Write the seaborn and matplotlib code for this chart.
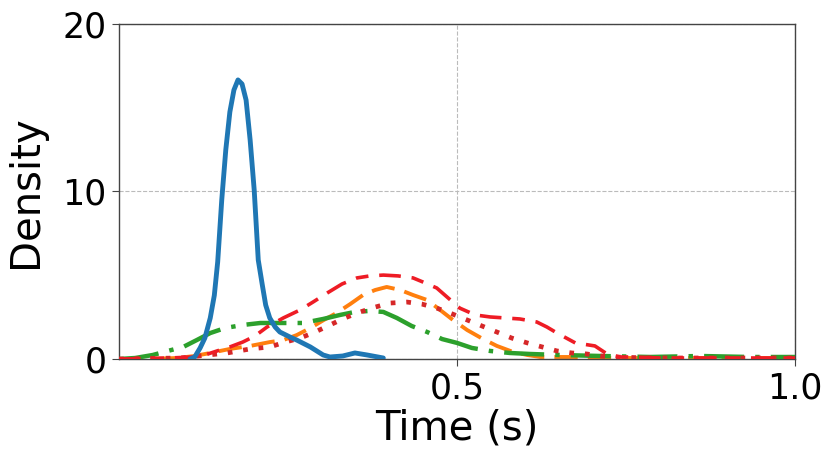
import numpy as np
import pandas as pd
import matplotlib
matplotlib.use("Agg")
import matplotlib.pyplot as plt
import seaborn as sns

# ---- data (x in seconds, y density) ----
blue_x = [0.105, 0.112, 0.120, 0.127, 0.135, 0.141, 0.146, 0.152, 0.158, 0.164, 0.170, 0.176,
          0.182, 0.188, 0.194, 0.200, 0.206, 0.212, 0.217, 0.223, 0.231, 0.238, 0.253, 0.263,
          0.283, 0.302, 0.312, 0.331, 0.349, 0.367, 0.391]
blue_y = [0.0, 0.12, 0.66, 1.25, 2.45, 3.8, 5.8, 9.5, 12.5, 14.75, 16.06, 16.66,
          16.42, 15.46, 13.07, 10.09, 5.91, 4.42, 3.22, 2.45, 1.91, 1.61, 1.31, 1.13,
          0.72, 0.24, 0.12, 0.18, 0.36, 0.24, 0.06]

green_x = [0.0, 0.024, 0.050, 0.072, 0.095, 0.115, 0.135, 0.157, 0.183, 0.209, 0.234, 0.272,
           0.302, 0.327, 0.349, 0.371, 0.391, 0.411, 0.433, 0.456, 0.478, 0.500, 0.522, 0.549,
           0.578, 0.608, 0.652, 0.712, 0.786, 0.860, 0.933, 1.0]
green_y = [0.0, 0.06, 0.24, 0.48, 0.72, 1.13, 1.55, 1.85, 2.03, 2.15, 2.15, 2.15,
           2.39, 2.63, 2.81, 2.87, 2.81, 2.45, 1.97, 1.61, 1.19, 0.96, 0.66, 0.48,
           0.36, 0.30, 0.24, 0.18, 0.12, 0.18, 0.12, 0.12]

orange_x = [0.0, 0.046, 0.086, 0.112, 0.135, 0.164, 0.194, 0.223, 0.243, 0.263, 0.283, 0.303,
            0.322, 0.342, 0.361, 0.379, 0.396, 0.416, 0.435, 0.456, 0.475, 0.494, 0.515, 0.536,
            0.559, 0.583, 0.604, 0.623, 0.672, 0.741, 0.859, 1.0]
orange_y = [0.0, 0.0, 0.06, 0.18, 0.36, 0.60, 0.78, 1.01, 1.13, 1.43, 1.85, 2.33,
            2.75, 3.28, 3.82, 4.12, 4.30, 4.12, 3.82, 3.52, 2.93, 2.33, 1.73, 1.25,
            0.78, 0.42, 0.24, 0.12, 0.12, 0.06, 0.06, 0.06]

reddot_x = [0.0, 0.090, 0.160, 0.194, 0.223, 0.246, 0.268, 0.290, 0.312, 0.334, 0.357, 0.379,
            0.401, 0.426, 0.448, 0.470, 0.493, 0.515, 0.537, 0.559, 0.581, 0.604, 0.626, 0.648,
            0.670, 0.692, 0.712, 0.731, 0.786, 1.0]
reddot_y = [0.0, 0.06, 0.36, 0.60, 0.72, 1.01, 1.25, 1.61, 2.03, 2.45, 2.81, 3.10,
            3.34, 3.40, 3.28, 3.04, 2.69, 2.33, 1.97, 1.61, 1.25, 0.96, 0.72, 0.48,
            0.36, 0.30, 0.18, 0.12, 0.06, 0.06]

reddash_x = [0.0, 0.075, 0.109, 0.127, 0.145, 0.164, 0.183, 0.201, 0.219, 0.243, 0.268, 0.287,
             0.308, 0.330, 0.352, 0.371, 0.391, 0.413, 0.435, 0.453, 0.470, 0.487, 0.504, 0.527,
             0.549, 0.571, 0.593, 0.618, 0.633, 0.648, 0.675, 0.704, 0.722, 0.741, 0.763, 0.800, 1.0]
reddash_y = [0.0, 0.06, 0.12, 0.24, 0.48, 0.72, 1.01, 1.37, 1.91, 2.45, 2.93, 3.40,
             3.94, 4.48, 4.84, 4.96, 5.01, 4.96, 4.84, 4.54, 4.24, 3.64, 3.04, 2.63,
             2.51, 2.45, 2.39, 2.21, 1.91, 1.55, 0.96, 0.78, 0.30, 0.12, 0.12, 0.06, 0.06]

x_ticks = [0.5, 1.0]
x_tick_labels = ["0.5", "1.0"]
y_ticks = [0, 10, 20]

sns.set_style("white")
plt.rcParams['font.family'] = ['DejaVu Sans']
plt.rcParams['text.color'] = 'black'
plt.rcParams['axes.labelcolor'] = 'black'
plt.rcParams['xtick.color'] = 'black'
plt.rcParams['ytick.color'] = 'black'

fig = plt.figure(figsize=(8.23, 4.59), dpi=100)
ax = fig.add_axes([119/823, 1-359/459, (795-119)/823, (359-24)/459])

series = [
    (orange_x, orange_y, "#ff7f0e", (0, (6, 2.6)), 2.8, 2),
    (green_x, green_y, "#2ca02c", (0, (9, 2.5, 1, 2.5)), 3.2, 3),
    (reddot_x, reddot_y, "#d62728", (0, (1, 2.3)), 3.4, 4),
    (reddash_x, reddash_y, "#ee1c25", (0, (6, 3, 3.5, 3)), 2.6, 5),
    (blue_x, blue_y, "#1f77b4", "-", 3.5, 6),
]
for xs, ys, col, ls, lw, z in series:
    df = pd.DataFrame({"x": xs, "y": ys})
    sns.lineplot(data=df, x="x", y="y", ax=ax, color=col, linewidth=lw,
                 sort=False, estimator=None, zorder=z)
    ax.lines[-1].set_linestyle(ls)

ax.set_xlim(0, 1.0)
ax.set_ylim(0, 20)
ax.set_xticks(x_ticks)
ax.set_xticklabels(x_tick_labels)
ax.set_yticks(y_ticks)
ax.grid(True, linestyle="--", color="#bbbbbb", linewidth=0.8)
ax.set_axisbelow(True)
ax.tick_params(axis="both", labelsize=25, length=5, width=0.8, color="#444444",
               labelcolor="black", direction="out", bottom=True, left=True, pad=4)
for s in ax.spines.values():
    s.set_color("#444444")
    s.set_linewidth(1.0)
ax.set_xlabel("Time (s)", fontsize=29, labelpad=2, color="black")
ax.set_ylabel("Density", fontsize=29, labelpad=12, color="black")

fig.savefig("out.png", dpi=100)
